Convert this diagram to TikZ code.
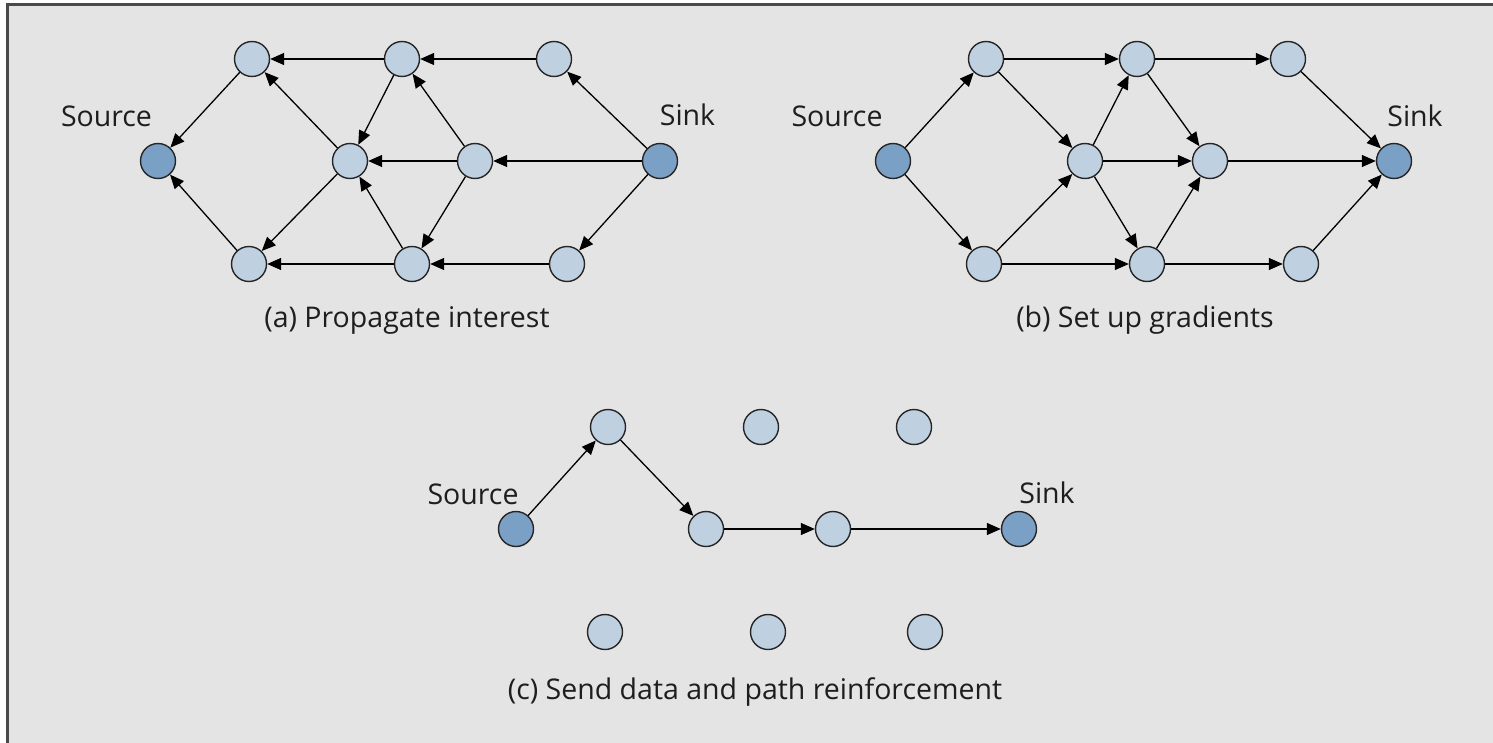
\documentclass[tikz,border=0pt]{standalone}
\usepackage{fontspec}
\setmainfont{Open Sans}
\usetikzlibrary{arrows.meta}
\definecolor{bgc}{HTML}{E4E4E4}
\definecolor{lite}{HTML}{BFD0E1}
\definecolor{darkn}{HTML}{7AA0C5}
\definecolor{framec}{HTML}{4A4A4A}
\definecolor{txt}{HTML}{1E1E1E}
\begin{document}
\begin{tikzpicture}[x=1pt,y=-1pt,
  nd/.style={circle,draw=black!85,line width=1.4pt,fill=lite,minimum size=35pt,inner sep=0pt},
  sn/.style={nd,fill=darkn},
  arr/.style={line width=1.3pt,-{Triangle[length=14pt,width=12pt]}},
  lbl/.style={font=\fontsize{28.5}{32}\selectfont,text=txt,anchor=base,inner sep=0pt},
  captxt/.style={font=\fontsize{28.5}{32}\selectfont,text=txt,anchor=base,inner sep=0pt}]
\useasboundingbox (0,0) rectangle (1493,743);
\fill[white] (0,0) rectangle (1493,743);
\fill[bgc] (7.7,4.7) rectangle (1493,743);
\draw[framec,line width=2.5pt] (7.7,743) -- (7.7,4.7) -- (1493,4.7);

% ---------- panel (a)
\node[sn] (aSrc) at (158,161) {};
\node[nd] (aT1) at (252,59) {};
\node[nd] (aT2) at (402,59) {};
\node[nd] (aT3) at (554,59) {};
\node[nd] (aM1) at (350,161) {};
\node[nd] (aM2) at (475,161) {};
\node[sn] (aSnk) at (660,161) {};
\node[nd] (aB1) at (249,264) {};
\node[nd] (aB2) at (412,264) {};
\node[nd] (aB3) at (567,264) {};
\node[lbl] (aSrcL) at (106.5,127) {Source};
\node[lbl] (aSnkL) at (687.5,126) {Sink};
\node[captxt] (aCap) at (407,327) {(a) Propagate interest};
\foreach \u/\v in {aT2/aT1,aT3/aT2,aT1/aSrc,aB1/aSrc,aM1/aT1,aT2/aM1,aM2/aT2,aM2/aM1,
  aSnk/aT3,aSnk/aM2,aSnk/aB3,aM1/aB1,aB2/aB1,aB3/aB2,aB2/aM1,aM2/aB2}
  \draw[arr] (\u) -- (\v);

% ---------- panel (b)
\node[sn] (bSrc) at (893,161) {};
\node[nd] (bT1) at (986,59) {};
\node[nd] (bT2) at (1137,59) {};
\node[nd] (bT3) at (1288,59) {};
\node[nd] (bM1) at (1085,161) {};
\node[nd] (bM2) at (1210,161) {};
\node[sn] (bSnk) at (1394,161) {};
\node[nd] (bB1) at (984,264) {};
\node[nd] (bB2) at (1147,264) {};
\node[nd] (bB3) at (1301,264) {};
\node[lbl] (bSrcL) at (837,127) {Source};
\node[lbl] (bSnkL) at (1415,127) {Sink};
\node[captxt] (bCap) at (1145,327) {(b) Set up gradients};
\foreach \u/\v in {bSrc/bT1,bSrc/bB1,bT1/bT2,bT1/bM1,bB1/bM1,bB1/bB2,bM1/bT2,bM1/bM2,
  bM1/bB2,bT2/bT3,bT2/bM2,bB2/bM2,bB2/bB3,bT3/bSnk,bM2/bSnk,bB3/bSnk}
  \draw[arr] (\u) -- (\v);

% ---------- panel (c)
\node[sn] (cSrc) at (516,529) {};
\node[nd] (cT1) at (608,427) {};
\node[nd] (cT2) at (761,427) {};
\node[nd] (cT3) at (914,427) {};
\node[nd] (cM1) at (706,529) {};
\node[nd] (cM2) at (833,529) {};
\node[sn] (cSnk) at (1019,529) {};
\node[nd] (cB1) at (605,632) {};
\node[nd] (cB2) at (768,632) {};
\node[nd] (cB3) at (925,632) {};
\node[lbl] (cSrcL) at (473,504) {Source};
\node[lbl] (cSnkL) at (1047,503) {Sink};
\node[captxt] (cCap) at (755,699) {(c) Send data and path reinforcement};
\foreach \u/\v in {cSrc/cT1,cT1/cM1,cM1/cM2,cM2/cSnk}
  \draw[arr] (\u) -- (\v);
\end{tikzpicture}
\end{document}
